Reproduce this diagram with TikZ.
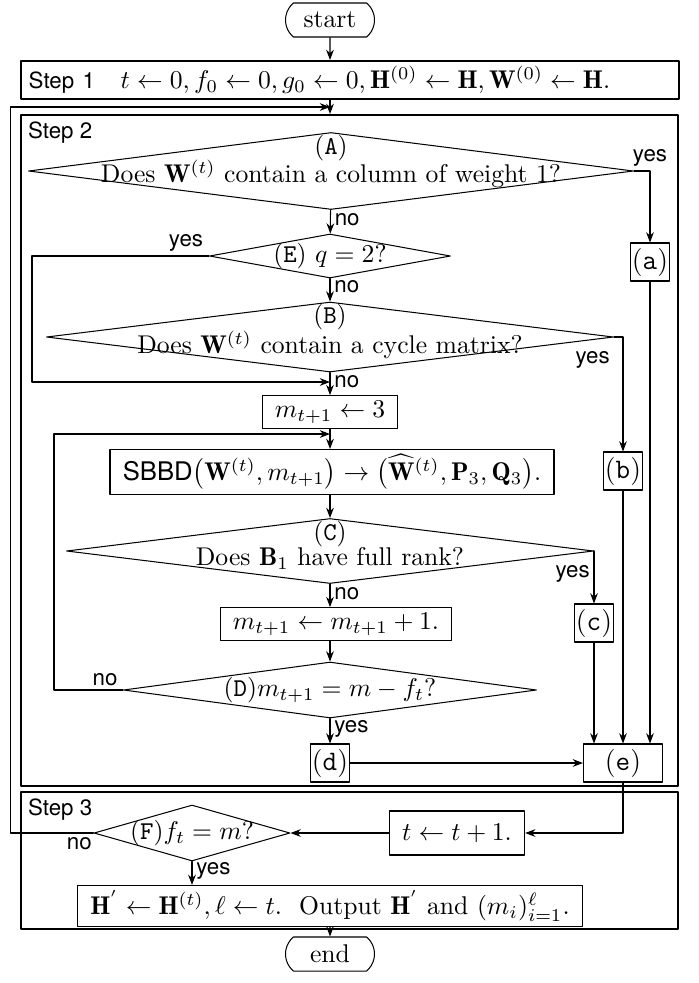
\documentclass[tikz,border=0pt]{standalone}
\usepackage{amsmath}
\usepackage{fontspec}
\setsansfont{TeX Gyre Heros}
\usetikzlibrary{shapes.geometric,shapes.misc,arrows.meta}
\newlength{\pxu}
\setlength{\pxu}{0.39pt}
\newcommand{\labfont}{\sffamily\fontsize{8.7}{10}\selectfont}
\tikzset{
  terminal/.style={draw,rounded rectangle,rounded rectangle arc length=100,minimum width=89*\pxu,minimum height=34*\pxu,inner sep=0pt},
  stepframe/.style={draw,line width=0.8pt,inner sep=0pt},
  proc/.style={draw,inner xsep=5pt,inner ysep=2pt},
  decision/.style={draw,diamond,inner sep=0pt},
  tagbox/.style={draw,inner sep=0.3pt,minimum width=39*\pxu,minimum height=38*\pxu,font=\fontsize{11}{13}\selectfont},
  ans/.style={font=\labfont,inner sep=1.5pt},
  steplabel/.style={font=\labfont,anchor=north west,inner sep=3pt},
}
\begin{document}
\begin{tikzpicture}[line cap=round,line join=round,>={Stealth[length=4pt,width=3pt]},x=0.39pt,y=-0.39pt]
\useasboundingbox (0,0) rectangle (699,983);
% frames of the three steps
\node[terminal] (start) at (330,20) {start};
\node[stepframe,text width=250.6pt,align=left,inner xsep=3pt,minimum height=38*\pxu] (step1) at (350,80)
  {{\labfont Step 1}\quad $t\leftarrow 0, f_0\leftarrow 0, g_0\leftarrow 0, \mathbf{H}^{(0)}\leftarrow\mathbf{H}, \mathbf{W}^{(0)}\leftarrow\mathbf{H}.$};
\node[stepframe,minimum width=657*\pxu,minimum height=671*\pxu] (step2) at (349.5,450.5) {};
\node[steplabel] (s2) at (step2.north west) {Step 2};
\node[stepframe,minimum width=657*\pxu,minimum height=137*\pxu] (step3) at (349.5,860.5) {};
\node[steplabel] (s3) at (step3.north west) {Step 3};
\node[terminal] (end) at (330,954) {end};
% decisions
\node[decision,minimum width=605*\pxu,minimum height=77*\pxu,
  label={[anchor=north,inner sep=1pt]north:(\texttt{A})},
  label={[yshift=-1pt]center:Does $\mathbf{W}^{(t)}$ contain a column of weight 1?}] (A) at (331,171) {};
\node[decision,minimum width=241*\pxu,minimum height=44*\pxu,
  label=center:{(\texttt{E}) $q=2?$}] (E) at (330,256) {};
\node[decision,minimum width=567*\pxu,minimum height=70*\pxu,
  label={[anchor=north,inner sep=1pt]north:(\texttt{B})},
  label={[yshift=-3pt]center:Does $\mathbf{W}^{(t)}$ contain a cycle matrix?}] (B) at (330,337) {};
\node[decision,minimum width=527*\pxu,minimum height=65*\pxu,
  label={[anchor=north,inner sep=1pt]north:(\texttt{C})},
  label={[yshift=-3pt]center:Does $\mathbf{B}_1$ have full rank?}] (C) at (330,551) {};
\node[decision,minimum width=413*\pxu,minimum height=56*\pxu,
  label=center:{(\texttt{D})$m_{t+1}=m-f_t?$}] (D) at (330,690) {};
\node[decision,minimum width=196*\pxu,minimum height=56*\pxu,
  label=center:{(\texttt{F})$f_t=m?$}] (F) at (192,833) {};
% processes
\node[proc] (m3) at (330,412) {$m_{t+1}\leftarrow 3$};
\node[proc] (sbbd) at (332,472) {$\textsf{SBBD}\big(\mathbf{W}^{(t)},m_{t+1}\big)\rightarrow\big(\widehat{\mathbf{W}}^{(t)},\mathbf{P}_3,\mathbf{Q}_3\big).$};
\node[proc] (mp) at (336,624) {$m_{t+1}\leftarrow m_{t+1}+1.$};
\node[proc,minimum width=124*\pxu,minimum height=44*\pxu] (tbox) at (457,833) {$t\leftarrow t+1.$};
\node[proc] (out) at (330,906) {$\mathbf{H}^{'}\leftarrow\mathbf{H}^{(t)},\ell\leftarrow t.$\ \ Output $\mathbf{H}^{'}$ and $(m_i)_{i=1}^{\ell}$.};
\node[tagbox] (a) at (650,262) {(\texttt{a})};
\node[tagbox] (b) at (623,471) {(\texttt{b})};
\node[tagbox] (c) at (594,623) {(\texttt{c})};
\node[tagbox] (d) at (330,763) {(\texttt{d})};
\node[tagbox,minimum width=79*\pxu] (e) at (623,763) {(\texttt{e})};
% joins
\coordinate (j0) at (330,107);
\coordinate (j1) at (330,382);
\coordinate (j2) at (330,434);
% connectors
\draw[->] (start) -- (start |- step1.north);
\draw[->] (start |- step1.south) -- (start |- step2.north);
\draw[->] (A) -- node[ans,right,pos=0.4]{no} (E);
\draw[->] (E) -- node[ans,right,pos=0.35]{no} (B);
\draw[->] (B) -- node[ans,right,pos=0.4]{no} (m3);
\draw[->] (m3) -- (m3 |- sbbd.north);
\draw[->] (sbbd.south -| C) -- (C);
\draw[->] (C) -- node[ans,right,pos=0.4]{no} (C |- mp.north);
\draw[->] (mp.south -| D) -- (D);
\draw[->] (D) -- node[ans,right,pos=0.4]{yes} (d);
\draw[->] (A.east) -| node[ans,above,pos=0.5]{yes} (a);
\draw[->] (B.east) -| node[ans,below left,pos=0,yshift=-4pt]{yes} (b);
\draw[->] (C.east) -| node[ans,below left,pos=0,yshift=-4pt]{yes} (c);
\draw[->] (E.west) -- node[ans,above,pos=0.13]{yes} ++(-177,0) |- (j1);
\draw[->] (D.west) -- node[ans,above,pos=0.26]{no} ++(-69,0) |- (j2);
\draw[->] (a) -- (a |- e.north);
\draw[->] (b) -- (e);
\draw[->] (c) -- (c |- e.north);
\draw[->] (d) -- (e);
\draw[->] (e) |- (tbox);
\draw[->] (tbox) -- (F);
\draw[->] (F.west) -- node[ans,below,pos=0.17]{no} ++(-83,0) |- (j0);
\draw[->] (F) -- node[ans,right,pos=0.4]{yes} (F |- out.north);
\draw[->] (out) -- (end);
\end{tikzpicture}
\end{document}
